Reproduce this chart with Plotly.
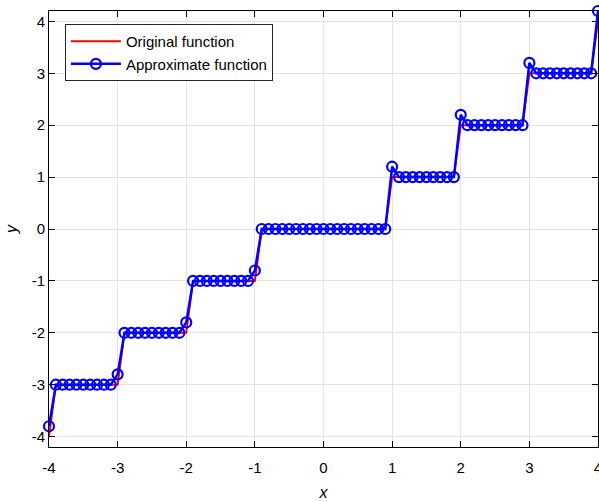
import plotly.graph_objects as go

x_vals = [-4.0, -3.9, -3.8, -3.7, -3.6, -3.5, -3.4, -3.3, -3.2, -3.1,
          -3.0, -2.9, -2.8, -2.7, -2.6, -2.5, -2.4, -2.3, -2.2, -2.1,
          -2.0, -1.9, -1.8, -1.7, -1.6, -1.5, -1.4, -1.3, -1.2, -1.1,
          -1.0, -0.9, -0.8, -0.7, -0.6, -0.5, -0.4, -0.3, -0.2, -0.1,
          0.0, 0.1, 0.2, 0.3, 0.4, 0.5, 0.6, 0.7, 0.8, 0.9,
          1.0, 1.1, 1.2, 1.3, 1.4, 1.5, 1.6, 1.7, 1.8, 1.9,
          2.0, 2.1, 2.2, 2.3, 2.4, 2.5, 2.6, 2.7, 2.8, 2.9,
          3.0, 3.1, 3.2, 3.3, 3.4, 3.5, 3.6, 3.7, 3.8, 3.9,
          4.0]

original_y = [-4, -3, -3, -3, -3, -3, -3, -3, -3, -3,
              -3, -2, -2, -2, -2, -2, -2, -2, -2, -2,
              -2, -1, -1, -1, -1, -1, -1, -1, -1, -1,
              -1, 0, 0, 0, 0, 0, 0, 0, 0, 0,
              0, 0, 0, 0, 0, 0, 0, 0, 0, 0,
              1, 1, 1, 1, 1, 1, 1, 1, 1, 1,
              2, 2, 2, 2, 2, 2, 2, 2, 2, 2,
              3, 3, 3, 3, 3, 3, 3, 3, 3, 3,
              4]

approx_y = [-3.8, -3, -3, -3, -3, -3, -3, -3, -3, -3,
            -2.8, -2, -2, -2, -2, -2, -2, -2, -2, -2,
            -1.8, -1, -1, -1, -1, -1, -1, -1, -1, -1,
            -0.8, 0, 0, 0, 0, 0, 0, 0, 0, 0,
            0, 0, 0, 0, 0, 0, 0, 0, 0, 0,
            1.2, 1, 1, 1, 1, 1, 1, 1, 1, 1,
            2.2, 2, 2, 2, 2, 2, 2, 2, 2, 2,
            3.2, 3, 3, 3, 3, 3, 3, 3, 3, 3,
            4.2]

tick_vals = [-4, -3, -2, -1, 0, 1, 2, 3, 4]

fig = go.Figure()
fig.add_trace(go.Scatter(x=x_vals, y=original_y, mode="lines",
                         name="Original function",
                         line=dict(color="#ff0000", width=2),
                         cliponaxis=False))
fig.add_trace(go.Scatter(x=x_vals, y=approx_y, mode="lines+markers",
                         name="Approximate function",
                         line=dict(color="#0000ff", width=2.5),
                         marker=dict(symbol="circle-open", size=10,
                                     color="#0000ff", line=dict(width=2.2, color="#0000ff")),
                         cliponaxis=False))

axis_common = dict(showgrid=True, gridcolor="#e3e3e3", gridwidth=1,
                   showline=True, linecolor="#000000", linewidth=1,
                   mirror="ticks", ticks="inside", ticklen=6, tickcolor="#000000",
                   zeroline=False, tickfont=dict(size=15, color="#000000"),
                   ticklabeloverflow="allow",
                   tickvals=tick_vals, ticktext=[str(v) for v in tick_vals])

fig.update_xaxes(range=[-4, 4], ticklabelstandoff=7,
                 title=dict(text="<i>x</i>", font=dict(size=16, color="#000000"), standoff=11),
                 **axis_common)
fig.update_yaxes(range=[-4.2, 4.2],
                 title=dict(text="<i>y</i>", font=dict(size=16, color="#000000"), standoff=10),
                 **axis_common)

fig.update_layout(
    width=599, height=502,
    margin=dict(l=49, r=1, t=11, b=55, autoexpand=False),
    plot_bgcolor="#ffffff", paper_bgcolor="#ffffff",
    font=dict(family="Liberation Sans, Arial, sans-serif", size=15, color="#000000"),
    legend=dict(x=0.029, y=0.97, xanchor="left", yanchor="top",
                bgcolor="#ffffff", bordercolor="#262626", borderwidth=1,
                font=dict(size=15), itemwidth=50, tracegroupgap=0),
    showlegend=True,
)

fig.write_html("out.html", config={"displayModeBar": False},
               post_script="document.body.style.margin='0px';document.body.style.padding='0px';")
